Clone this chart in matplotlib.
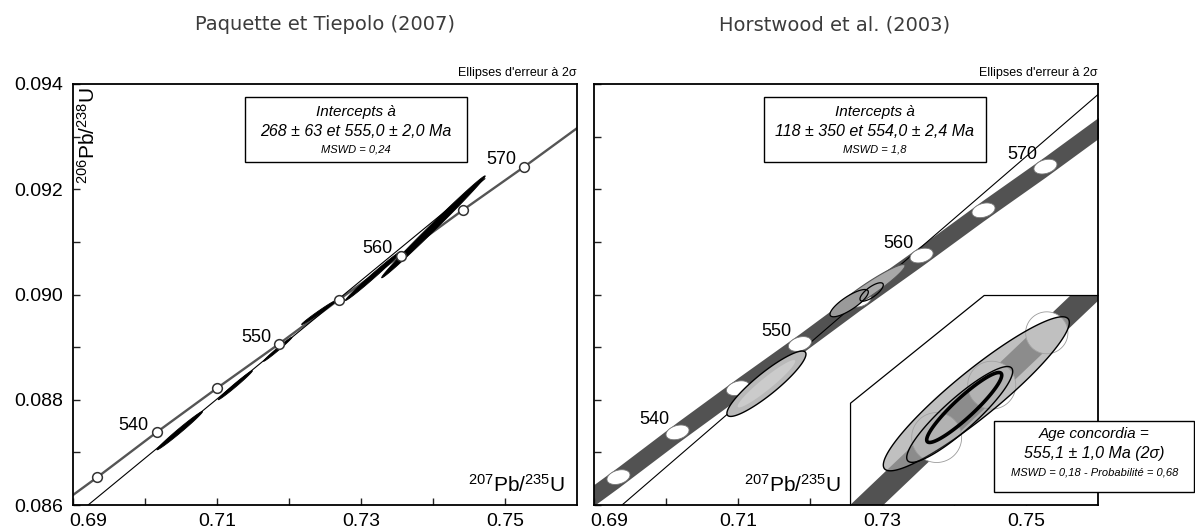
import numpy as np
import matplotlib
matplotlib.use("Agg")
import matplotlib.pyplot as plt
from matplotlib.patches import Polygon, Rectangle
from matplotlib.transforms import ScaledTranslation

plt.rcParams['font.family'] = ['Liberation Sans', 'DejaVu Sans']
plt.rcParams['mathtext.fontset'] = 'custom'
plt.rcParams['mathtext.rm'] = 'Liberation Sans'
plt.rcParams['mathtext.it'] = 'Liberation Sans:italic'
plt.rcParams['mathtext.sf'] = 'Liberation Sans'

# ---------------- data ----------------
x_major = [0.69, 0.71, 0.73, 0.75]
x_minor = [0.70, 0.72, 0.74]
x_labels = ["0.69", "0.71", "0.73", "0.75"]
y_major = [0.086, 0.088, 0.090, 0.092, 0.094]
y_minor = [0.087, 0.089, 0.091, 0.093]
y_labels = ["0.086", "0.088", "0.090", "0.092", "0.094"]

# concordia age marks (Ma) and their positions
ages = [535, 540, 545, 550, 555, 560, 565, 570]
conc_x = [0.6934, 0.7016, 0.7100, 0.7186, 0.7269, 0.7355, 0.7441, 0.7527]
conc_y = [0.08653, 0.08738, 0.08822, 0.08906, 0.08990, 0.09074, 0.09160, 0.09243]
labelled_ages = [540, 550, 560, 570]
# concordia curve (incl. points beyond the frame)
curve_x = [0.6880, 0.6934, 0.7016, 0.7100, 0.7186, 0.7269, 0.7355, 0.7441, 0.7527, 0.7620]
curve_y = [0.08599, 0.08653, 0.08738, 0.08822, 0.08906, 0.08990, 0.09074, 0.09160, 0.09243, 0.09336]
band_half = 0.0002

# discordia lines
disc1_x = [0.6921, 0.7472]
disc1_y = [0.0860, 0.0922]
disc2_x = [0.6939, 0.7600]
disc2_y = [0.0860, 0.0938]

# left panel error ellipses (centre, 2-sigma half widths, correlation)
L_cx = [0.70482, 0.71254, 0.71844, 0.72413, 0.73167, 0.74006]
L_cy = [0.087413, 0.088276, 0.088959, 0.089658, 0.090350, 0.091286]
L_sx = [0.003175, 0.00238, 0.00198, 0.00238, 0.003835, 0.007195]
L_sy = [0.000365, 0.000276, 0.000229, 0.000228, 0.000464, 0.000969]
L_rho = [0.99, 0.99, 0.99, 0.99, 0.993, 0.996]

# right panel error ellipses
R_cx = [0.71395, 0.71395, 0.72799, 0.72544, 0.72856]
R_cy = [0.088304, 0.088304, 0.090079, 0.089836, 0.090048]
R_sx = [0.00549, 0.0040, 0.005205, 0.00266, 0.00162]
R_sy = [0.000621, 0.00045, 0.00049, 0.000259, 0.000175]
R_rho = [0.905, 0.95, 0.953, 0.816, 0.76]

# right panel concordia age ellipses
M_sx = 0.0016
M_sy = 0.00014
M_rho = 0.3

# inset (zoom around 555 Ma)
inset_ages = [554, 555, 556]
inset_x = [0.72556, 0.72728, 0.72900]
inset_y = [0.08974, 0.08991, 0.09008]
inset_curve_x = [0.7220, 0.72556, 0.72728, 0.72900, 0.7315]
inset_curve_y = [0.089388, 0.08974, 0.08991, 0.09008, 0.090327]
inset_band_half = 0.0000512
inset_mark_sx = [0.00078, 0.00075, 0.00066]
inset_mark_sy = [0.000081, 0.0000777, 0.000068]
I_cx = [0.726799, 0.72628, 0.726421]
I_cy = [0.089882, 0.089815, 0.0898375]
I_sx = [0.002905, 0.001655, 0.0011715]
I_sy = [0.00025, 0.0001555, 0.0001135]
I_rho = [0.925, 0.899, 0.923]


def ellipse_xy(cx, cy, sx, sy, rho, n=240):
    t = np.linspace(0, 2 * np.pi, n)
    x = cx + sx * np.cos(t)
    y = cy + sy * (rho * np.cos(t) + np.sqrt(1 - rho ** 2) * np.sin(t))
    return np.column_stack([x, y])


W, H = 1195, 531
fig = plt.figure(figsize=(W / 100, H / 100), dpi=100)
ax1 = fig.add_axes([73 / W, (H - 505) / H, 504 / W, 421 / H])
ax2 = fig.add_axes([594 / W, (H - 505) / H, 504 / W, 421 / H])

for ax in (ax1, ax2):
    ax.set_xlim(0.69, 0.76)
    ax.set_ylim(0.086, 0.094)
    ax.set_xticks(x_major)
    ax.set_xticklabels(x_labels)
    ax.set_xticks(x_minor, minor=True)
    ax.set_yticks(y_major)
    ax.set_yticks(y_minor, minor=True)
    ax.tick_params(which='both', direction='in', length=5, width=1.0,
                   top=False, right=False, labelsize=14, color='#222222')
    ax.tick_params(axis='x', pad=6)
    ax.tick_params(axis='y', pad=7)
    for s in ax.spines.values():
        s.set_linewidth(1.3)
        s.set_zorder(10)
    lbl = ax.get_xticklabels()[0]
    lbl.set_transform(lbl.get_transform() + ScaledTranslation(0.15, 0, fig.dpi_scale_trans))
    ax.text(1.0, 1.012, "Ellipses d'erreur à 2σ", transform=ax.transAxes,
            ha='right', va='bottom', fontsize=9)

ax1.set_yticklabels(y_labels)
ax2.tick_params(axis='y', labelleft=False)

# ---------------- left panel ----------------
ax1.plot(curve_x, curve_y, color='#555555', lw=1.7, zorder=2)
ax1.plot(disc1_x, disc1_y, color='black', lw=0.8, zorder=2)
for cx, cy, sx, sy, r in zip(L_cx, L_cy, L_sx, L_sy, L_rho):
    ax1.add_patch(Polygon(ellipse_xy(cx, cy, sx, sy, r), closed=True,
                          facecolor='black', edgecolor='black', lw=0.6, zorder=3))
ax1.plot(conc_x, conc_y, 'o', ms=7, mfc='white', mec='#333333', mew=1.1, zorder=5)
for a, x, y in zip(ages, conc_x, conc_y):
    if a in labelled_ages:
        ax1.annotate(str(a), (x, y), xytext=(-5.5, 5), textcoords='offset points',
                     ha='right', va='center', fontsize=13, zorder=6)

ax1.add_patch(Rectangle((0.341, 0.815), 0.44, 0.155, transform=ax1.transAxes,
                        facecolor='white', edgecolor='black', lw=1.0, zorder=7))
ax1.text(0.561, 0.934, "Intercepts à", transform=ax1.transAxes, ha='center', va='center',
         fontsize=11, style='italic', zorder=8)
ax1.text(0.561, 0.888, "268 ± 63 et 555,0 ± 2,0 Ma", transform=ax1.transAxes, ha='center',
         va='center', fontsize=11.5, style='italic', zorder=8)
ax1.text(0.561, 0.845, "MSWD = 0,24", transform=ax1.transAxes, ha='center', va='center',
         fontsize=8, style='italic', zorder=8)
ax1.text(0.03, 0.993, r'$^{206}$Pb/$^{238}$U', transform=ax1.transAxes, rotation=90,
         ha='center', va='top', fontsize=15)
ax1.text(0.976, 0.021, r'$^{207}$Pb/$^{235}$U', transform=ax1.transAxes,
         ha='right', va='bottom', fontsize=15)

# ---------------- right panel ----------------
cy_arr = np.array(curve_y)
ax2.fill_between(curve_x, cy_arr - band_half, cy_arr + band_half, color='#525252', lw=0, zorder=1)
ax2.plot(disc2_x, disc2_y, color='black', lw=0.8, zorder=2)
for x, y in zip(conc_x, conc_y):
    ax2.add_patch(Polygon(ellipse_xy(x, y, M_sx, M_sy, M_rho), closed=True,
                          facecolor='white', edgecolor='#777777', lw=0.6, zorder=3))
R_face = ['#b9b9b9', '#cbcbcb', '#a8a8a8', '#9a9a9a', 'none']
R_edge = ['black', 'none', '#555555', 'black', 'black']
R_lw = [1.0, 0.0, 0.8, 0.9, 0.9]
for cx, cy, sx, sy, r, fc, ec, lw in zip(R_cx, R_cy, R_sx, R_sy, R_rho, R_face, R_edge, R_lw):
    ax2.add_patch(Polygon(ellipse_xy(cx, cy, sx, sy, r), closed=True,
                          facecolor=fc, edgecolor=ec, lw=lw, zorder=4))
for a, x, y in zip(ages, conc_x, conc_y):
    if a in labelled_ages:
        ax2.annotate(str(a), (x, y), xytext=(-6, 9), textcoords='offset points',
                     ha='right', va='center', fontsize=13, zorder=6)

ax2.add_patch(Rectangle((0.337, 0.815), 0.44, 0.155, transform=ax2.transAxes,
                        facecolor='white', edgecolor='black', lw=1.0, zorder=7))
ax2.text(0.557, 0.934, "Intercepts à", transform=ax2.transAxes, ha='center', va='center',
         fontsize=11, style='italic', zorder=8)
ax2.text(0.557, 0.888, "118 ± 350 et 554,0 ± 2,4 Ma", transform=ax2.transAxes, ha='center',
         va='center', fontsize=11.5, style='italic', zorder=8)
ax2.text(0.557, 0.845, "MSWD = 1,8", transform=ax2.transAxes, ha='center', va='center',
         fontsize=8, style='italic', zorder=8)
ax2.text(0.491, 0.021, r'$^{207}$Pb/$^{235}$U', transform=ax2.transAxes,
         ha='right', va='bottom', fontsize=15)

# ---------------- inset ----------------
ins = ax2.inset_axes([0.509, 0.0, 0.491, 0.4976])
ins.set_xlim(0.72287, 0.73060)
ins.set_ylim(0.089521, 0.090201)
ins.axis('off')
clip = Polygon([(0, 0), (0, 0.486), (0.540, 1), (1, 1), (1, 0)], closed=True,
               transform=ins.transAxes, facecolor='white', edgecolor='none', zorder=0)
ins.add_patch(clip)
icy = np.array(inset_curve_y)
band = ins.fill_between(inset_curve_x, icy - inset_band_half, icy + inset_band_half,
                        color='#525252', lw=0, zorder=1)
band.set_clip_path(clip)
for x, y, sx, sy in zip(inset_x, inset_y, inset_mark_sx, inset_mark_sy):
    p = ins.add_patch(Polygon(ellipse_xy(x, y, sx, sy, 0.0), closed=True,
                              facecolor='white', edgecolor='#9a9a9a', lw=0.6, zorder=2))
    p.set_clip_path(clip)
I_face = [(0.65, 0.65, 0.65, 0.7), (0.55, 0.55, 0.55, 0.25), 'none']
I_lw = [1.0, 1.0, 2.6]
for cx, cy, sx, sy, r, fc, lw in zip(I_cx, I_cy, I_sx, I_sy, I_rho, I_face, I_lw):
    p = ins.add_patch(Polygon(ellipse_xy(cx, cy, sx, sy, r), closed=True,
                              facecolor=fc, edgecolor='black', lw=lw, zorder=3))
    p.set_clip_path(clip)
ins.plot([0, 0, 0.540, 1], [0, 0.486, 1, 1], transform=ins.transAxes,
         color='black', lw=0.9, clip_on=False, zorder=5)

# concordia age box
fig.add_artist(Rectangle((994 / W, 0.0734), (1194 - 994) / W, 0.1338, transform=fig.transFigure,
                         facecolor='white', edgecolor='black', lw=1.0, zorder=20))
fig.text(0.916, 0.1827, "Age concordia =", ha='center', va='center', fontsize=11,
         style='italic', zorder=21)
fig.text(0.916, 0.1463, "555,1 ± 1,0 Ma (2σ)", ha='center', va='center', fontsize=11.5,
         style='italic', zorder=21)
fig.text(0.916, 0.1098, "MSWD = 0,18 - Probabilité = 0,68", ha='center', va='center',
         fontsize=8, style='italic', zorder=21)

# titles
fig.text(325 / W, 0.953, "Paquette et Tiepolo (2007)", ha='center', va='center',
         fontsize=14, color='#3c3c3c', family='DejaVu Sans')
fig.text(835 / W, 0.953, "Horstwood et al. (2003)", ha='center', va='center',
         fontsize=14, color='#3c3c3c', family='DejaVu Sans')

fig.savefig("out.png", dpi=100)
